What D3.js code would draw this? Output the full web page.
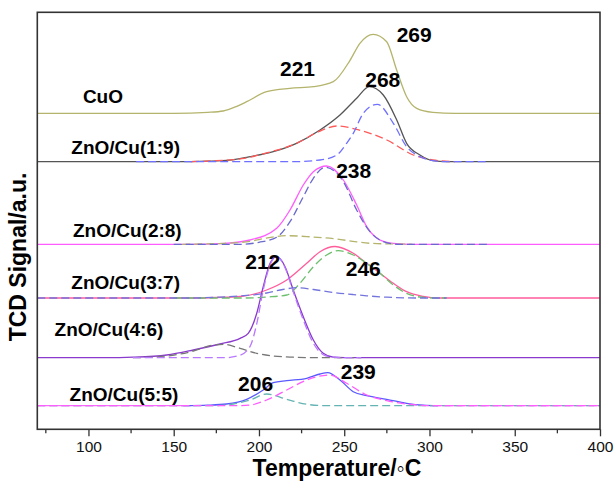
<!DOCTYPE html>
<html>
<head>
<meta charset="utf-8">
<title>TPR</title>
<script src="https://d3js.org/d3.v7.min.js"></script>
<style>
  body { margin: 0; background: #fff; }
  text { font-family: "Liberation Sans", Arial, sans-serif; }
</style>
</head>
<body>
<div id="chart"></div>
<script>
// ---- data (temperature in C, signal above each baseline in a.u.) ----
const xTicks = [100, 150, 200, 250, 300, 350, 400];
const xMinor = [75, 125, 175, 225, 275, 325, 375];

const samples = ["CuO", "ZnO/Cu(1:9)", "ZnO/Cu(2:8)", "ZnO/Cu(3:7)", "ZnO/Cu(4:6)", "ZnO/Cu(5:5)"];
const offsets = [316, 267.6, 185, 131.3, 71.6, 23.6];   // baseline of each trace
const peakLabels = ["221", "269", "268", "238", "246", "212", "206", "239"];

const cuo = [[70,0],[150,0],[170,1],[179,2.3],[187,7],[192.8,11.6],[204.5,21.6],[218,25],[232,26.6],[243.6,31.6],[253.4,53],[259.2,70],[267,79],[274.9,71.6],[280.8,43],[286.6,16.6],[292.5,5],[302,1],[315,0],[400,0]];

const s19 = [[70,0],[150,0],[170,0.5],[183,1.5],[192.8,4.4],[208.4,10],[222,18.4],[235.8,31.7],[247.5,46.7],[257.3,63.4],[264.7,75],[272.9,66.7],[280.8,41.7],[286.6,18.4],[294.4,6.7],[302,1],[310,0],[400,0]];
const s19red = [[160,0],[175,1],[190,3],[205,9],[222,18.4],[235,30],[245.6,35.7],[258,32],[275,21.7],[290.5,6.7],[302,1.7],[315,0]];
const s19blue = [[128,0],[220,0],[235.8,1.7],[245.6,6.7],[251.4,18.4],[255.3,28.4],[261.2,48.4],[269.4,57.4],[278.8,38.4],[286.6,15],[294.4,5],[302,1],[310,0],[335,0]];

const s28 = [[70,0],[160,0],[180,1],[194.7,4.3],[210.4,16],[218.2,34.3],[226,59.3],[231.9,72.6],[239.7,78.3],[249.5,64.3],[257.3,39.3],[263.2,17.6],[271,4.3],[278.8,1],[290,0],[400,0]];
const s28blue = [[150,0],[190,0],[200,2],[210.4,7],[218.2,22.6],[226,47.6],[231.9,66],[238.7,77],[249.5,62.6],[257.3,34.3],[265.1,12.6],[272.9,2.7],[282,0],[335,0]];
const s28olive = [[155,0],[180,1],[194.7,3],[205,6.5],[216.3,8.6],[230,7.5],[245.6,5.3],[255,3],[265,1],[280,0.3],[290,0]];

const s37 = [[70,0],[160,0],[175,0.5],[188.9,1.5],[204.5,8],[216.3,18],[228,34.7],[235.8,46.3],[244.6,51.5],[255.3,44.7],[263.2,34.7],[271,24.7],[278.8,14.7],[286.6,6.3],[296.4,1.6],[305,0],[400,0]];
const s37green = [[150,0],[190,0],[205,1],[216.3,3],[224,14.7],[231.9,31.3],[239.7,43],[246.5,47.3],[255.3,43],[263.2,34.7],[271,24.7],[278.8,13],[286.6,4.7],[294.4,1],[305,0],[310,0]];
const s37blue = [[70,0],[160,0],[175,0.8],[188.9,2],[204.5,5],[214,8.5],[222.1,10.3],[232,8.5],[243.6,5.5],[255,3.5],[263.2,2.2],[275,0.8],[285,0.2],[295,0],[310,0]];

const s46 = [[70,0],[110,0],[126.3,0.5],[145.9,2.7],[161.5,7.7],[177.1,13.7],[188.9,19.4],[193.7,24.4],[198.7,44.4],[202.5,71],[206.5,94.4],[210.4,101],[215.3,91],[220.1,67.7],[226,41],[231.9,17.7],[237.7,4.4],[243.6,0.5],[250,0],[400,0]];
const s46violet = [[126,0],[180,0],[188.9,2.5],[194.7,11],[198.7,34],[202.5,67.7],[206.5,92.7],[210.4,101],[215.3,90],[220.1,66],[226,37.7],[231.9,14.4],[237.7,3],[243,0.5],[250,0],[260,0]];
const s46gray = [[126,0],[146,1.7],[161.5,6.7],[171.3,12],[179.1,13.4],[188.9,9.4],[198.7,4.4],[208.4,1.7],[220,0.5],[235,0],[260,0]];

const s55 = [[155.6,0],[170,0.5],[181,1.7],[192.8,6.4],[202.5,15.7],[208.4,23],[216.3,25],[228,27.4],[235.8,31.7],[240.3,33],[247.5,25.7],[255.3,14],[263.2,10],[274.9,6.4],[286.6,2.4],[296.4,0.5],[305,0]];
const s55edgeL = [[70,0],[160,0]];
const s55edgeR = [[300,0],[400,0]];
const s55pink = [[70,0],[185,0],[194.7,0.7],[204.5,5.7],[216.3,15.7],[228,25.7],[241.6,30.7],[251.4,22.4],[263.2,10.7],[274.9,5],[290.5,1],[300,0],[400,0]];
const s55teal = [[70,0],[175,0],[185,1.7],[194.7,5.7],[204.5,11.7],[216.3,6.4],[228,1.4],[239.7,0],[400,0]];

// ---- layout ----
const W = 615, H = 486;
const margin = {left: 37.3, top: 12.3, right: 15, bottom: 56.7};

const svg = d3.select("#chart").append("svg")
    .attr("width", W).attr("height", H);

const x = d3.scaleLinear().domain([70, 400]).range([margin.left, W - margin.right]);
const y = d3.scaleLinear().domain([0, 417]).range([H - margin.bottom, margin.top]);

// solid traces first, then the dashed fitted components on top
const traces = [
  {d: cuo, k: 0, c: "#b4b46c"},
  {d: s19, k: 1, c: "#555555"},
  {d: s28, k: 2, c: "#ff5cff"},
  {d: s37, k: 3, c: "#ff5c9c"},
  {d: s46, k: 4, c: "#8a3acc"},
  {d: s55edgeL, k: 5, c: "#ff66ff"},
  {d: s55edgeR, k: 5, c: "#ff66ff"},
  {d: s55, k: 5, c: "#5a5aff"},
  {d: s19red, k: 1, c: "#ff5a5a", dash: true},
  {d: s19blue, k: 1, c: "#7070ff", dash: true},
  {d: s28olive, k: 2, c: "#b4b46c", dash: true},
  {d: s28blue, k: 2, c: "#6a6acc", dash: true},
  {d: s37green, k: 3, c: "#6cbf6c", dash: true},
  {d: s37blue, k: 3, c: "#7474dd", dash: true},
  {d: s46gray, k: 4, c: "#777777", dash: true},
  {d: s46violet, k: 4, c: "#b878ff", dash: true},
  {d: s55teal, k: 5, c: "#66b3b3", dash: true},
  {d: s55pink, k: 5, c: "#ff5cff", dash: true}
];

traces.forEach(t => {
  const line = d3.line()
      .x(p => x(p[0]))
      .y(p => y(offsets[t.k] + p[1]))
      .curve(d3.curveMonotoneX);
  svg.append("path")
      .attr("d", line(t.d))
      .attr("fill", "none")
      .attr("stroke", t.c)
      .attr("stroke-width", 1.3)
      .attr("stroke-dasharray", t.dash ? "8,4" : null);
});

// frame
svg.append("rect")
    .attr("x", margin.left).attr("y", margin.top)
    .attr("width", W - margin.left - margin.right)
    .attr("height", H - margin.top - margin.bottom)
    .attr("fill", "none").attr("stroke", "#333").attr("stroke-width", 1.6);

// x axis
const xAxis = svg.append("g")
    .attr("transform", `translate(0,${H - margin.bottom})`)
    .call(d3.axisBottom(x).tickValues(xTicks).tickSize(7).tickPadding(5).tickFormat(d3.format("d")));
xAxis.select(".domain").remove();
xAxis.selectAll("line").attr("stroke", "#333").attr("stroke-width", 1.3);
xAxis.selectAll("text").attr("font-size", 15.5).attr("fill", "#111")
    .style("font-family", "'Liberation Sans', Arial, sans-serif");

svg.append("g")
    .attr("transform", `translate(0,${H - margin.bottom})`)
    .selectAll("line").data(xMinor).join("line")
    .attr("x1", d => x(d)).attr("x2", d => x(d))
    .attr("y1", 0).attr("y2", 4)
    .attr("stroke", "#333").attr("stroke-width", 1.3);

// axis titles
svg.append("text")
    .attr("x", 337).attr("y", 476)
    .attr("text-anchor", "middle")
    .attr("font-size", 23).attr("font-weight", "bold")
    .text("Temperature/\u25E6C");

svg.append("text")
    .attr("transform", "translate(25.5,257) rotate(-90)")
    .attr("text-anchor", "middle")
    .attr("font-size", 23).attr("font-weight", "bold")
    .text("TCD Signal/a.u.");

// sample names (right edge, vertical centre)
const namePos = [[123, 96], [180, 147.5], [181.7, 230], [180, 282.5], [163.3, 329], [178.3, 394]];
svg.selectAll(".name").data(samples).join("text")
    .attr("class", "name")
    .attr("x", (d, i) => namePos[i][0])
    .attr("y", (d, i) => namePos[i][1])
    .attr("dy", "0.35em")
    .attr("text-anchor", "end")
    .attr("font-size", 19).attr("font-weight", "bold")
    .text(d => d);

// peak temperatures (centre)
const peakPos = [[297.5, 68.3], [414.2, 35], [382.8, 80], [353.7, 170.7], [363.3, 268.3], [262.8, 261.7], [255.6, 384], [358.3, 371.7]];
svg.selectAll(".peak").data(peakLabels).join("text")
    .attr("class", "peak")
    .attr("x", (d, i) => peakPos[i][0])
    .attr("y", (d, i) => peakPos[i][1])
    .attr("dy", "0.35em")
    .attr("text-anchor", "middle")
    .attr("font-size", 21).attr("font-weight", "bold")
    .text(d => d);
</script>
</body>
</html>
